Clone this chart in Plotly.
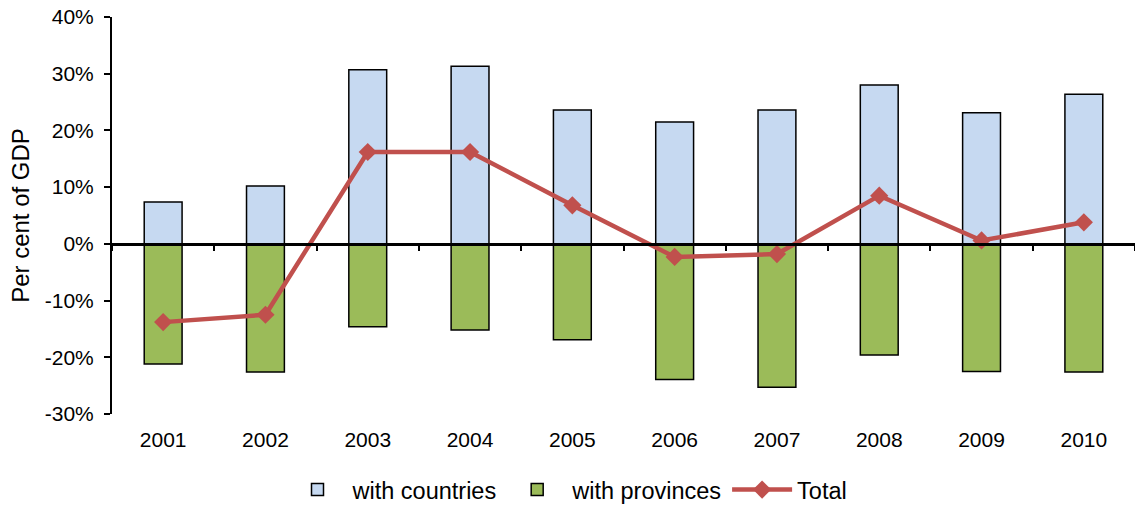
import plotly.graph_objects as go

years = ["2001", "2002", "2003", "2004", "2005", "2006", "2007", "2008", "2009", "2010"]
with_countries = [7.4, 10.2, 30.7, 31.3, 23.6, 21.5, 23.6, 28.0, 23.1, 26.4]
with_provinces = [-21.2, -22.6, -14.6, -15.2, -16.9, -23.9, -25.3, -19.6, -22.5, -22.6]
total = [-13.8, -12.5, 16.2, 16.2, 6.8, -2.3, -1.8, 8.5, 0.6, 3.8]

y_ticks = [-30, -20, -10, 0, 10, 20, 30, 40]
y_tick_text = [f"{v}%" for v in y_ticks]

fig = go.Figure()
fig.add_trace(go.Bar(
    x=years, y=with_countries, name="with countries",
    marker=dict(color="#C6D9F1", line=dict(color="black", width=1.5)),
    width=0.37,
))
fig.add_trace(go.Bar(
    x=years, y=with_provinces, name="with provinces",
    marker=dict(color="#9BBB59", line=dict(color="black", width=1.5)),
    width=0.37,
))
fig.add_trace(go.Scatter(
    x=years, y=total, name="Total", mode="lines+markers",
    line=dict(color="#C0504D", width=4.5),
    marker=dict(symbol="diamond", size=14, color="#C0504D"),
))

fig.update_layout(
    width=1135, height=506,
    barmode="relative",
    plot_bgcolor="white", paper_bgcolor="white",
    margin=dict(l=112, r=0, t=17, b=92, autoexpand=False),
    font=dict(family="Liberation Sans, Arial, sans-serif", size=21, color="black"),
    showlegend=True,
    legend=dict(orientation="h", x=0.5, xanchor="center", xref="container",
                y=0.032, yanchor="middle", yref="container",
                font=dict(size=23.5), traceorder="normal", itemwidth=60),
    xaxis=dict(
        type="category", categoryorder="array", categoryarray=years,
        range=[-0.5, len(years) - 0.5],
        anchor="free", position=30 / 70, automargin=False,
        showline=True, linecolor="black", linewidth=2.5,
        ticks="outside", ticklen=5, tickwidth=2, tickcolor="black",
        tickson="boundaries", ticklabelstandoff=176,
        showgrid=False, zeroline=False,
        tickfont=dict(size=21),
    ),
    yaxis=dict(
        range=[-30, 40], tickvals=y_ticks, ticktext=y_tick_text, automargin=False,
        showline=True, linecolor="black", linewidth=2,
        ticks="outside", ticklen=6, tickwidth=2, tickcolor="black",
        ticklabelstandoff=6,
        showgrid=False, zeroline=False,
        title=dict(text="Per cent of GDP", font=dict(size=24), standoff=8),
        tickfont=dict(size=21),
    ),
)

fig.write_html("out.html")
